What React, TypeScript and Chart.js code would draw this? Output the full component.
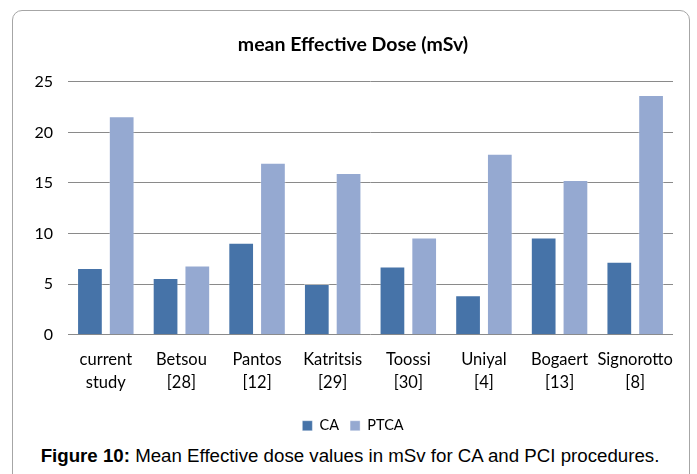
import React, { useEffect, useRef } from "react";
import { Chart, registerables } from "chart.js";

Chart.register(...registerables);

const categories: string[][] = [
  ["current", "study"],
  ["Betsou", "[28]"],
  ["Pantos", "[12]"],
  ["Katritsis", "[29]"],
  ["Toossi", "[30]"],
  ["Uniyal", "[4]"],
  ["Bogaert", "[13]"],
  ["Signorotto", "[8]"],
];
const caValues = [6.6, 5.6, 9.1, 5.0, 6.75, 3.9, 9.6, 7.2];
const ptcaValues = [21.6, 6.85, 17.0, 16.0, 9.6, 17.9, 15.3, 23.7];
const seriesNames = ["CA", "PTCA"];
const yMin = 0;
const yMax = 25;
const yStep = 5;
const chartTitle = "mean Effective Dose (mSv)";
const captionBold = "Figure 10:";
const captionRest = " Mean Effective dose values in mSv for CA and PCI procedures.";

const CA_COLOR = "#4673a8";
const PTCA_COLOR = "#95a9d1";
const GRID_COLOR = "#8a8a8a";

export default function App() {
  const canvasRef = useRef<HTMLCanvasElement | null>(null);

  useEffect(() => {
    if (!canvasRef.current) return;
    const chart = new Chart(canvasRef.current, {
      type: "bar",
      data: {
        labels: categories,
        datasets: [
          {
            label: seriesNames[0],
            data: caValues,
            backgroundColor: CA_COLOR,
            borderColor: "rgba(255,255,255,0.35)",
            borderWidth: 1,
            categoryPercentage: 0.84,
            barPercentage: 0.81,
          },
          {
            label: seriesNames[1],
            data: ptcaValues,
            backgroundColor: PTCA_COLOR,
            borderColor: "rgba(255,255,255,0.35)",
            borderWidth: 1,
            categoryPercentage: 0.84,
            barPercentage: 0.81,
          },
        ],
      },
      options: {
        responsive: true,
        maintainAspectRatio: false,
        animation: false,
        font: { family: "Lato" },
        layout: { padding: { left: 33, right: 24, top: 33, bottom: 1 } },
        plugins: {
          title: {
            display: true,
            text: chartTitle,
            color: "#000",
            font: { family: "Lato", size: 19.5, weight: "bold" },
            padding: { top: 0, bottom: 25.5 },
          },
          legend: {
            display: true,
            position: "bottom",
            labels: {
              color: "#000",
              font: { family: "Lato", size: 14.5 },
              boxWidth: 10,
              boxHeight: 10,
              padding: 11,
            },
          },
          tooltip: { enabled: false },
        },
        scales: {
          x: {
            grid: { display: false, drawTicks: false },
            border: { display: false },
            ticks: {
              color: "#000",
              font: { family: "Lato", size: 16.5, lineHeight: 1.42 },
              padding: 13,
              maxRotation: 0,
              autoSkip: false,
            },
          },
          y: {
            min: yMin,
            max: yMax,
            grid: { color: GRID_COLOR, lineWidth: 1, drawTicks: false },
            border: { display: false },
            ticks: {
              stepSize: yStep,
              color: "#000",
              font: { family: "Lato", size: 16 },
              padding: 15,
            },
            afterFit: (scale: any) => {
              scale.width = 35;
            },
          },
        },
      },
    });
    return () => chart.destroy();
  }, []);

  return (
    <div
      style={{
        position: "fixed",
        left: 0,
        top: 0,
        width: 697,
        height: 474,
        background: "#fff",
        overflow: "hidden",
      }}
    >
      <div
        style={{
          position: "absolute",
          left: 12,
          top: 10,
          width: 678,
          height: 500,
          border: "1px solid #a6a6a6",
          borderRadius: 10,
          boxSizing: "border-box",
        }}
      />
      <div style={{ position: "absolute", left: 0, top: 0, width: 697, height: 444 }}>
        <canvas ref={canvasRef} />
      </div>
      <div
        style={{
          position: "absolute",
          left: 0,
          top: 445,
          width: 700,
          textAlign: "center",
          fontFamily: "'Liberation Sans', Arial, sans-serif",
          fontSize: 18.7,
          lineHeight: "22px",
          color: "#000",
          whiteSpace: "nowrap",
        }}
      >
        <b>{captionBold}</b>
        {captionRest}
      </div>
    </div>
  );
}
